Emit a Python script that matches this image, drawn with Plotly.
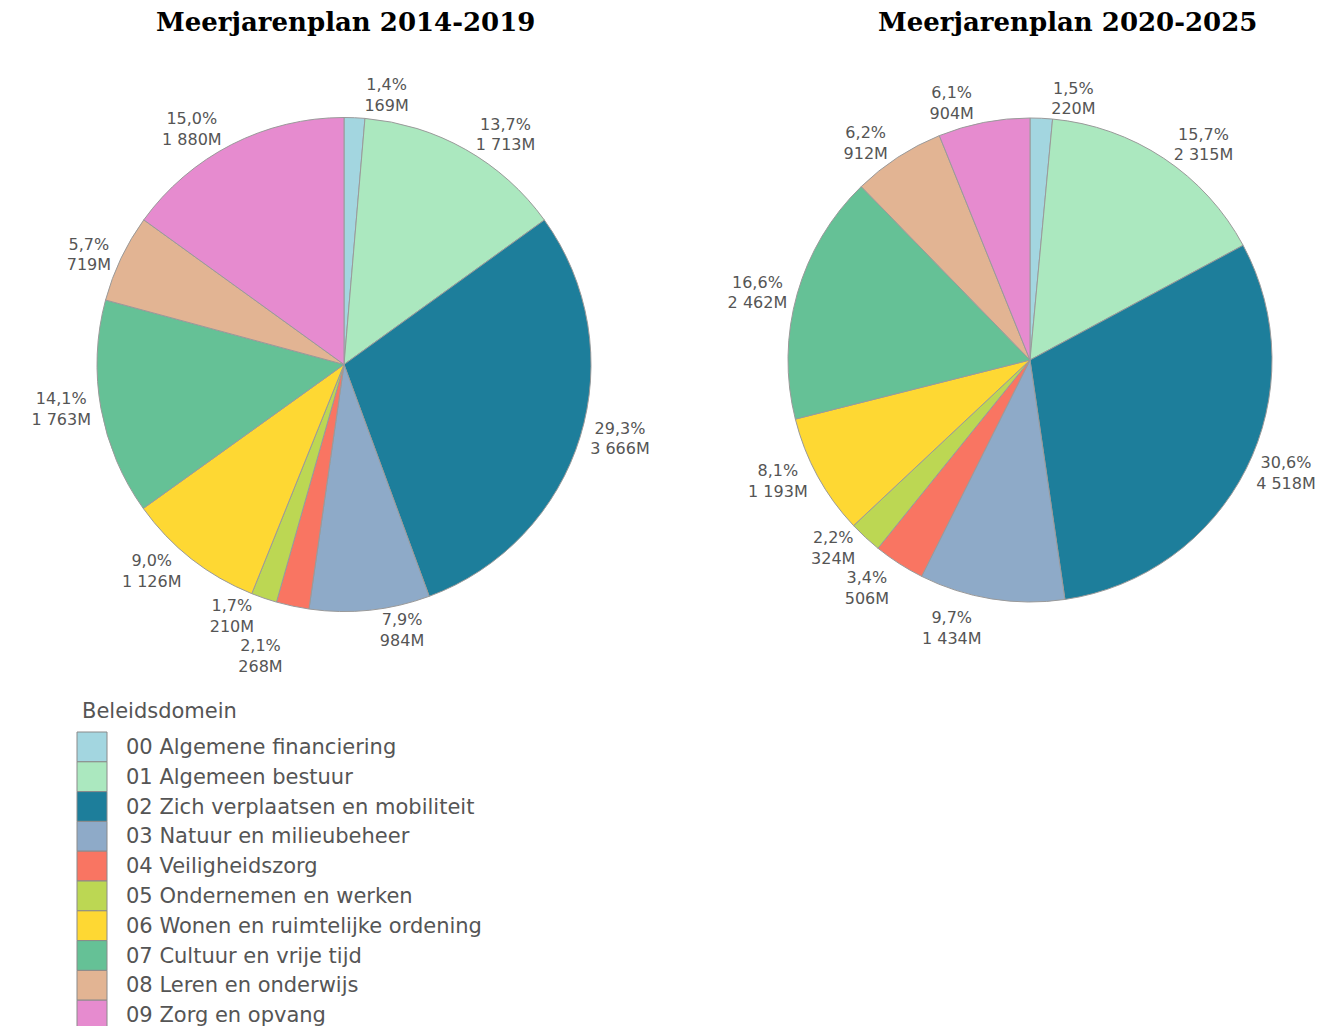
import plotly.graph_objects as go

categories = [
    "00 Algemene financiering",
    "01 Algemeen bestuur",
    "02 Zich verplaatsen en mobiliteit",
    "03 Natuur en milieubeheer",
    "04 Veiligheidszorg",
    "05 Ondernemen en werken",
    "06 Wonen en ruimtelijke ordening",
    "07 Cultuur en vrije tijd",
    "08 Leren en onderwijs",
    "09 Zorg en opvang",
]
values_2014 = [169, 1713, 3666, 984, 268, 210, 1126, 1763, 719, 1880]
pct_2014 = ["1,4", "13,7", "29,3", "7,9", "2,1", "1,7", "9,0", "14,1", "5,7", "15,0"]
values_2020 = [220, 2315, 4518, 1434, 506, 324, 1193, 2462, 912, 904]
pct_2020 = ["1,5", "15,7", "30,6", "9,7", "3,4", "2,2", "8,1", "16,6", "6,2", "6,1"]
titles = ["Meerjarenplan 2014-2019", "Meerjarenplan 2020-2025"]
legend_title = "Beleidsdomein"
colors = ["#a3d6e0", "#abe8bf", "#1d7e9b", "#8eaac8", "#f97562",
          "#bcd753", "#fed833", "#65c196", "#e2b493", "#e68bcf"]

W, H = 1341, 1026
OFF = 8  # page body margin


def px(x):
    return (x - OFF) / W


def py(y):
    return 1 - (y - OFF) / H


def fmt_val(v):
    return f"{v:,}".replace(",", " ") + "M"


def labels_for(vals, pcts):
    return [f"{p}%<br>{fmt_val(v)}" for v, p in zip(vals, pcts)]


fig = go.Figure()
pies = [
    (values_2014, pct_2014, (97, 591), (117, 612)),
    (values_2020, pct_2020, (788, 1272), (118, 602)),
]
for vals, pcts, (x0, x1), (y0, y1) in pies:
    fig.add_trace(go.Pie(
        labels=categories, values=vals, sort=False, direction="clockwise",
        rotation=0,
        marker=dict(colors=colors, line=dict(color="#9a9a9a", width=1)),
        text=labels_for(vals, pcts), textinfo="text", textposition="outside",
        outsidetextfont=dict(family="DejaVu Sans", size=16, color="#555555"),
        hoverinfo="label+value+percent", showlegend=False,
        domain=dict(x=[px(x0), px(x1)], y=[py(y1), py(y0)]),
    ))

annotations = []
for title, cx in zip(titles, [345, 1067]):
    annotations.append(dict(
        text=f"<b>{title}</b>", x=px(cx), y=py(22), xref="paper", yref="paper",
        xanchor="center", yanchor="middle", showarrow=False,
        font=dict(family="DejaVu Serif", size=26, color="#000000"),
    ))

# Legend drawn as swatches + labels
annotations.append(dict(
    text=legend_title, x=px(80), y=py(711), xref="paper", yref="paper",
    xanchor="left", yanchor="middle", showarrow=False,
    font=dict(family="DejaVu Sans", size=21, color="#555555"),
))
shapes = []
row_h = 29.8
top0 = 732
for i, (cat, col) in enumerate(zip(categories, colors)):
    t = top0 + i * row_h
    shapes.append(dict(
        type="rect", xref="paper", yref="paper",
        x0=px(77), x1=px(107), y0=py(t + row_h), y1=py(t),
        fillcolor=col, line=dict(color="#8a8a8a", width=1),
    ))
    annotations.append(dict(
        text=cat, x=px(124), y=py(t + row_h / 2), xref="paper", yref="paper",
        xanchor="left", yanchor="middle", showarrow=False,
        font=dict(family="DejaVu Sans", size=21, color="#555555"),
    ))

fig.update_layout(
    width=W, height=H, margin=dict(l=0, r=0, t=0, b=0),
    paper_bgcolor="white", plot_bgcolor="white",
    annotations=annotations, shapes=shapes,
)
# The reference shows no leader lines for the outside labels
fig.write_html(
    "out.html",
    post_script="var s=document.createElement('style');"
                "s.textContent='path.textline{display:none !important;}';"
                "document.head.appendChild(s);",
)
